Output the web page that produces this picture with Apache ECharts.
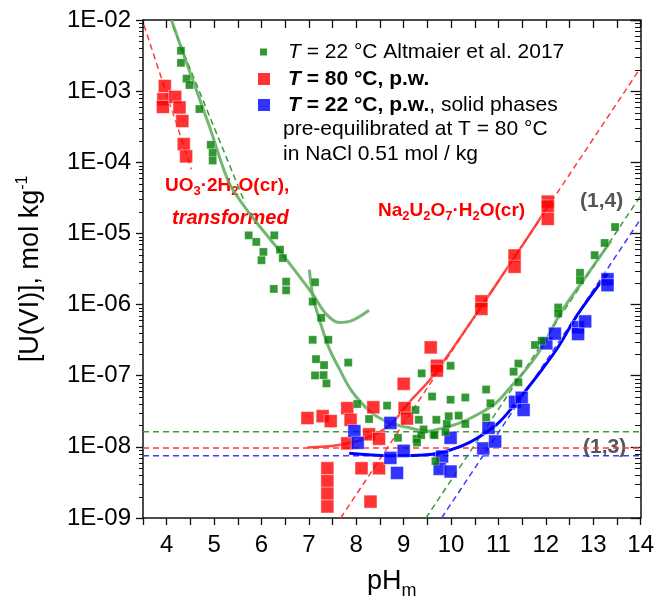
<!DOCTYPE html>
<html>
<head>
<meta charset="utf-8">
<script src="https://cdn.jsdelivr.net/npm/echarts@6/dist/echarts.min.js"></script>
<style>
  html, body { margin: 0; padding: 0; background: #fff; }
  #chart { width: 657px; height: 605px; }
</style>
</head>
<body>
<div id="chart"></div>
<script>
const FONT = 'Liberation Sans, Arial, sans-serif';

// axis ticks
const xTicks = [4, 5, 6, 7, 8, 9, 10, 11, 12, 13, 14];
const yDecades = [1e-9, 1e-8, 1e-7, 1e-6, 1e-5, 1e-4, 1e-3, 1e-2];

// T = 22 °C Altmaier et al. 2017  [pHm, mol/kg]
const altmaier = [
  [4.30, 3.7e-3], [4.30, 2.5e-3], [4.42, 1.5e-3], [4.48, 1.22e-3], [4.69, 5.6e-4],
  [4.93, 1.76e-4], [4.97, 1.36e-4], [4.97, 1.06e-4],
  [5.73, 9.4e-6], [5.89, 7.6e-6], [6.27, 9.4e-6], [6.04, 5.5e-6], [6.00, 4.2e-6],
  [6.39, 5.9e-6], [6.45, 4.5e-6], [6.26, 1.66e-6], [6.52, 2.1e-6], [6.52, 1.59e-6],
  [7.13, 2.06e-6], [7.08, 1.1e-6], [7.26, 6.5e-7], [7.08, 3.2e-7], [7.41, 3.2e-7],
  [7.15, 1.71e-7], [7.32, 1.41e-7], [7.83, 1.53e-7], [7.13, 1.01e-7], [7.31, 1.02e-7],
  [7.37, 7.8e-8], [8.02, 4.0e-8], [8.65, 3.8e-8], [8.27, 2.46e-8], [8.88, 1.34e-8],
  [9.38, 1.08e-7], [9.60, 5.1e-8], [9.25, 3.3e-8], [9.32, 2.4e-8], [9.42, 1.76e-8],
  [9.27, 1.3e-8], [9.37, 1.46e-8], [9.28, 1.15e-8], [9.63, 1.5e-8], [9.69, 2.4e-8],
  [9.65, 1.46e-8], [9.88, 1.62e-8], [9.91, 2.1e-8], [9.95, 2.7e-8], [10.16, 2.75e-8],
  [10.74, 2.6e-8], [9.67, 6.3e-9], [9.99, 4.6e-8], [10.30, 4.94e-8], [10.74, 6.4e-8],
  [9.99, 1.38e-7], [10.83, 4.1e-8], [10.30, 2.1e-8],
  [11.42, 1.48e-7], [11.32, 1.14e-7], [11.42, 8.1e-8], [11.77, 2.7e-7], [11.91, 3.1e-7],
  [12.26, 9.1e-7], [12.26, 7.5e-7], [12.72, 2.8e-6], [12.72, 2.2e-6], [13.03, 4.95e-6],
  [13.24, 7.35e-6], [13.46, 1.23e-5]
];

// T = 80 °C, p.w.
const pw80 = [
  [3.96, 1.18e-3], [3.93, 7.7e-4], [3.92, 6.0e-4], [4.18, 8.3e-4], [4.27, 5.9e-4],
  [4.33, 3.8e-4], [4.36, 1.8e-4], [4.41, 1.21e-4],
  [6.97, 2.54e-8], [7.29, 2.7e-8], [7.46, 2.3e-8], [7.81, 3.5e-8], [7.88, 2.4e-8],
  [7.81, 1.12e-8], [8.27, 1.5e-8], [8.48, 1.3e-8], [8.36, 3.6e-8], [9.00, 7.7e-8],
  [9.02, 3.5e-8], [9.07, 2.5e-8], [8.11, 5.0e-9], [8.48, 5.0e-9], [8.30, 1.7e-9],
  [7.39, 5.0e-9], [7.39, 3.3e-9], [7.39, 2.2e-9], [7.39, 1.45e-9],
  [9.57, 2.5e-7], [9.70, 1.38e-7], [9.70, 1.18e-7], [10.64, 1.11e-6], [10.64, 8.7e-7],
  [11.34, 4.9e-6], [11.34, 3.4e-6], [12.04, 2.8e-5], [12.04, 2.4e-5], [12.04, 1.6e-5]
];

// T = 22 °C, p.w., solids pre-equilibrated at 80 °C
const pw22 = [
  [7.96, 1.66e-8], [8.03, 1.14e-8], [8.72, 2.17e-8], [8.72, 7.0e-9], [9.00, 8.8e-9],
  [8.86, 4.3e-9], [9.99, 1.34e-8], [9.81, 7.3e-9], [9.76, 4.9e-9], [9.99, 4.5e-9],
  [10.68, 9.5e-9], [10.79, 1.85e-8], [10.93, 1.19e-8], [11.35, 4.3e-8], [11.49, 4.9e-8],
  [11.53, 3.3e-8], [12.01, 2.85e-7], [12.19, 3.9e-7], [12.68, 4.8e-7], [12.68, 3.85e-7],
  [12.83, 5.8e-7], [13.30, 2.27e-6], [13.30, 1.87e-6]
];

// solid curves
const fitUO3 = [
  [4.10, 1.0e-2], [4.41, 2.6e-3], [4.90, 3.2e-4], [5.29, 5.6e-5], [5.54, 2.95e-5],
  [5.96, 1.26e-5], [6.45, 5.0e-6], [7.08, 1.4e-6], [7.36, 7.4e-7], [7.64, 5.6e-7],
  [7.92, 6.0e-7], [8.27, 8.3e-7]
];
const fitAltmaier = [
  [7.01, 3.1e-6], [7.09, 1.26e-6], [7.26, 5.1e-7], [7.43, 2.4e-7], [7.64, 1.26e-7],
  [7.91, 6.0e-8], [8.33, 3.0e-8], [8.69, 2.2e-8], [9.05, 1.9e-8], [9.53, 1.66e-8],
  [9.74, 1.78e-8], [10.16, 2.14e-8], [10.58, 2.9e-8], [10.94, 4.1e-8], [11.27, 7.1e-8],
  [11.57, 1.2e-7], [11.90, 2.4e-7], [12.32, 7.8e-7], [12.83, 2.4e-6], [13.37, 7.8e-6]
];
const fitNa = [
  [6.97, 9.8e-9], [7.6, 1.05e-8], [8.2, 1.32e-8], [8.7, 2.0e-8], [9.14, 4.4e-8],
  [9.6, 9.6e-8], [10.44, 6.0e-7], [11.14, 2.95e-6], [11.84, 1.48e-5], [12.05, 2.5e-5]
];
const fitBlue = [
  [7.85, 8.1e-9], [8.69, 7.5e-9], [9.6, 7.9e-9], [10.02, 9.2e-9], [10.37, 1.14e-8],
  [10.72, 1.57e-8], [11.0, 2.17e-8], [11.28, 3.5e-8], [11.56, 6.0e-8], [11.91, 1.2e-7],
  [12.26, 2.53e-7], [12.68, 7.4e-7], [13.3, 2.72e-6]
];

// dashed lines
const slopeGreenLeft = [[4.13, 8.1e-3], [5.65, 2.7e-5]];
const slopeRedLeft = [[3.52, 8.5e-3], [4.52, 8.0e-5]];
const slopeRed14 = [[7.67, 1.0e-9], [14, 2.14e-3]];
const slopeGreen14 = [[9.47, 1.0e-9], [14, 3.4e-5]];
const slopeBlue14 = [[9.8, 1.0e-9], [14, 1.6e-5]];
const levelGreen = 1.63e-8;
const levelRed = 9.6e-9;
const levelBlue = 7.5e-9;

const X_MIN = 3.5, X_MAX = 14;

// tick positions for the frame: 2..9 x 10^n
const yMinor = [];
yDecades.slice(0, -1).forEach(d => {
  for (let k = 2; k <= 9; k++) yMinor.push([X_MIN, +(k * d).toPrecision(3)]);
});

function level(v) {
  return [[X_MIN, v], [X_MAX, v]];
}

function lineSeries(data, color, width, dashed, smooth) {
  return {
    type: 'line',
    data,
    showSymbol: false,
    symbol: 'none',
    smooth: smooth ? 0.35 : false,
    silent: true,
    lineStyle: { color, width, type: dashed ? [6, 4] : 'solid' },
    itemStyle: { color },
    z: 2
  };
}

// minor y ticks drawn as thin rects: outward on the left, inward on the right
function yMinorTicks(params, api) {
  const v = api.value(1);
  const l = api.coord([X_MIN, v]);
  const r = api.coord([X_MAX, v]);
  const y = Math.round(l[1]);
  return {
    type: 'group',
    children: [
      { type: 'rect', shape: { x: Math.round(l[0]) - 4, y: y, width: 4, height: 1 }, style: { fill: '#111' } },
      { type: 'rect', shape: { x: Math.round(r[0]) - 6, y: y, width: 6, height: 1 }, style: { fill: '#111' } }
    ]
  };
}

function expLabel(v) {
  const e = Math.round(-Math.log10(v));
  return '1E-' + (e < 10 ? '0' : '') + e;
}

const redRich = {
  a: { fontSize: 19, fontWeight: 'bold', fontFamily: FONT, fill: '#ff0000', lineHeight: 24 },
  s: { fontSize: 13, fontWeight: 'bold', fontFamily: FONT, fill: '#ff0000', verticalAlign: 'bottom' }
};

const axisLineStyle = { color: '#111', width: 1.5 };
const tickStyle = { color: '#111', width: 1.3 };

const chart = echarts.init(document.getElementById('chart'));
chart.setOption({
  animation: false,
  backgroundColor: '#fff',
  grid: { left: 143, right: 14, top: 20, bottom: 81 },
  legend: [
    {
      data: ['Altmaier'],
      left: 260, top: 41, padding: 0,
      orient: 'vertical',
      selectedMode: false,
      icon: 'rect',
      itemWidth: 7, itemHeight: 7,
      itemStyle: { borderWidth: 0 },
      formatter: () => '{i|T}{n| = 22 °C Altmaier et al. 2017}',
      textStyle: {
        fontFamily: FONT, fontSize: 21, color: '#000', lineHeight: 22,
        rich: {
          i: { fontFamily: FONT, fontSize: 21, fontStyle: 'italic', color: '#000', lineHeight: 22, padding: [0, 0, 0, 16] },
          n: { fontFamily: FONT, fontSize: 21, color: '#000', lineHeight: 22 }
        }
      }
    },
    {
      data: ['T80', 'T22'],
      left: 258, top: 68, padding: 0,
      orient: 'vertical',
      itemGap: 4,
      selectedMode: false,
      icon: 'rect',
      itemWidth: 12, itemHeight: 12,
      itemStyle: { borderWidth: 0 },
      formatter: name => name === 'T80'
        ? '{bi|T}{b| = 80 °C, p.w.}'
        : '{bi|T}{b| = 22 °C, p.w.}{n|, solid phases}',
      textStyle: {
        fontFamily: FONT, fontSize: 21, color: '#000', lineHeight: 22,
        rich: {
          bi: { fontFamily: FONT, fontSize: 21, fontStyle: 'italic', fontWeight: 'bold', color: '#000', lineHeight: 22, padding: [0, 0, 0, 13] },
          b: { fontFamily: FONT, fontSize: 21, fontWeight: 'bold', color: '#000', lineHeight: 22 },
          n: { fontFamily: FONT, fontSize: 21, color: '#000', lineHeight: 22 }
        }
      }
    }
  ],
  xAxis: [
    {
      type: 'value', min: X_MIN, max: X_MAX, interval: 0.5,
      position: 'bottom',
      name: '{a|pH}{m|m}',
      nameLocation: 'middle',
      nameGap: 46,
      nameTextStyle: {
        fontFamily: FONT, fontSize: 27, color: '#000',
        rich: {
          a: { fontFamily: FONT, fontSize: 27, color: '#000', lineHeight: 36 },
          m: { fontFamily: FONT, fontSize: 18, color: '#000', verticalAlign: 'bottom', lineHeight: 18 }
        }
      },
      axisLine: { show: true, onZero: false, lineStyle: axisLineStyle },
      axisTick: { show: true, inside: false, length: 7, interval: 0, lineStyle: tickStyle },
      axisLabel: {
        show: true, margin: 15, interval: 0,
        fontFamily: FONT, fontSize: 24, color: '#000',
        formatter: v => (xTicks.indexOf(v) >= 0 ? String(v) : '')
      },
      splitLine: { show: false }
    },
    {
      type: 'value', min: X_MIN, max: X_MAX, interval: 0.5,
      position: 'top',
      axisLine: { show: true, onZero: false, lineStyle: axisLineStyle },
      axisTick: { show: true, inside: true, length: 8, interval: 0, lineStyle: tickStyle },
      axisLabel: { show: false },
      splitLine: { show: false }
    }
  ],
  yAxis: [
    {
      type: 'log', logBase: 10, min: 1e-9, max: 1e-2,
      position: 'left',
      name: '{a|[U(VI)], mol kg}{s|-1}',
      nameLocation: 'middle',
      nameGap: 97,
      nameTextStyle: {
        fontFamily: FONT, fontSize: 27, color: '#000',
        rich: {
          a: { fontFamily: FONT, fontSize: 27, color: '#000', lineHeight: 31 },
          s: { fontFamily: FONT, fontSize: 16, color: '#000', verticalAlign: 'top', lineHeight: 16 }
        }
      },
      axisLine: { show: true, onZero: false, lineStyle: axisLineStyle },
      axisTick: { show: true, inside: false, length: 7, lineStyle: tickStyle },
      axisLabel: {
        show: true, margin: 12,
        fontFamily: FONT, fontSize: 24, color: '#000',
        formatter: expLabel
      },
      splitLine: { show: false }
    },
    {
      type: 'log', logBase: 10, min: 1e-9, max: 1e-2,
      position: 'right',
      axisLine: { show: true, onZero: false, lineStyle: axisLineStyle },
      axisTick: { show: true, inside: true, length: 10, lineStyle: tickStyle },
      axisLabel: { show: false },
      splitLine: { show: false }
    }
  ],
  series: [
    {
      type: 'custom', name: 'yMinor', data: yMinor,
      renderItem: yMinorTicks, clip: false, silent: true, z: 6
    },
    lineSeries(level(levelGreen), '#3c9a3c', 1.5, true),
    lineSeries(level(levelRed), '#ff3b3b', 1.5, true),
    lineSeries(level(levelBlue), '#3b3bff', 1.5, true),
    lineSeries(slopeRedLeft, '#ff3b3b', 1.5, true),
    lineSeries(slopeRed14, '#ff3b3b', 1.5, true),
    lineSeries(slopeGreen14, '#3c9a3c', 1.5, true),
    lineSeries(slopeBlue14, '#3b3bff', 1.5, true),
    lineSeries(slopeGreenLeft, '#3c9a3c', 1.5, true),
    lineSeries(fitUO3, 'rgba(90,170,90,0.85)', 3, false, true),
    lineSeries(fitAltmaier, 'rgba(90,170,90,0.85)', 3, false, true),
    lineSeries(fitNa, 'rgba(255,50,50,0.9)', 2.5, false, true),
    lineSeries(fitBlue, '#0000ff', 3, false, true),
    {
      name: 'T80', type: 'scatter', data: pw80,
      symbol: 'rect', symbolSize: 13,
      itemStyle: { color: '#ff0000', borderColor: 'rgba(255,255,255,0.85)', borderWidth: 0.7 },
      z: 3
    },
    {
      name: 'T22', type: 'scatter', data: pw22,
      symbol: 'rect', symbolSize: 13,
      itemStyle: { color: '#0000ff', borderColor: 'rgba(255,255,255,0.85)', borderWidth: 0.7 },
      z: 3
    },
    {
      name: 'Altmaier', type: 'scatter', data: altmaier,
      symbol: 'rect', symbolSize: 8,
      itemStyle: { color: '#007d00', borderColor: 'rgba(255,255,255,0.6)', borderWidth: 0.5 },
      z: 4
    }
  ],
  graphic: [
    { type: 'text', left: 165, top: 176, style: { text: '{a|UO}{s|3}{a|·2H}{s|2}{a|O(cr),}', rich: redRich } },
    { type: 'text', left: 172, top: 208, style: { text: 'transformed', fill: '#ff0000', font: 'italic bold 20px ' + FONT } },
    { type: 'text', left: 378, top: 201, style: { text: '{a|Na}{s|2}{a|U}{s|2}{a|O}{s|7}{a|·H}{s|2}{a|O(cr)}', rich: redRich } },
    { type: 'text', left: 580, top: 191, style: { text: '(1,4)', fill: '#555', font: 'bold 21px ' + FONT } },
    { type: 'text', left: 583, top: 437, style: { text: '(1,3)', fill: '#555', font: 'bold 21px ' + FONT } },
    { type: 'text', left: 283, top: 119, style: { text: 'pre-equilibrated at T = 80 °C', fill: '#000', font: '21px ' + FONT } },
    { type: 'text', left: 283, top: 144, style: { text: 'in NaCl 0.51 mol / kg', fill: '#000', font: '21px ' + FONT } }
  ]
});
window.addEventListener('resize', () => chart.resize());
</script>
</body>
</html>
